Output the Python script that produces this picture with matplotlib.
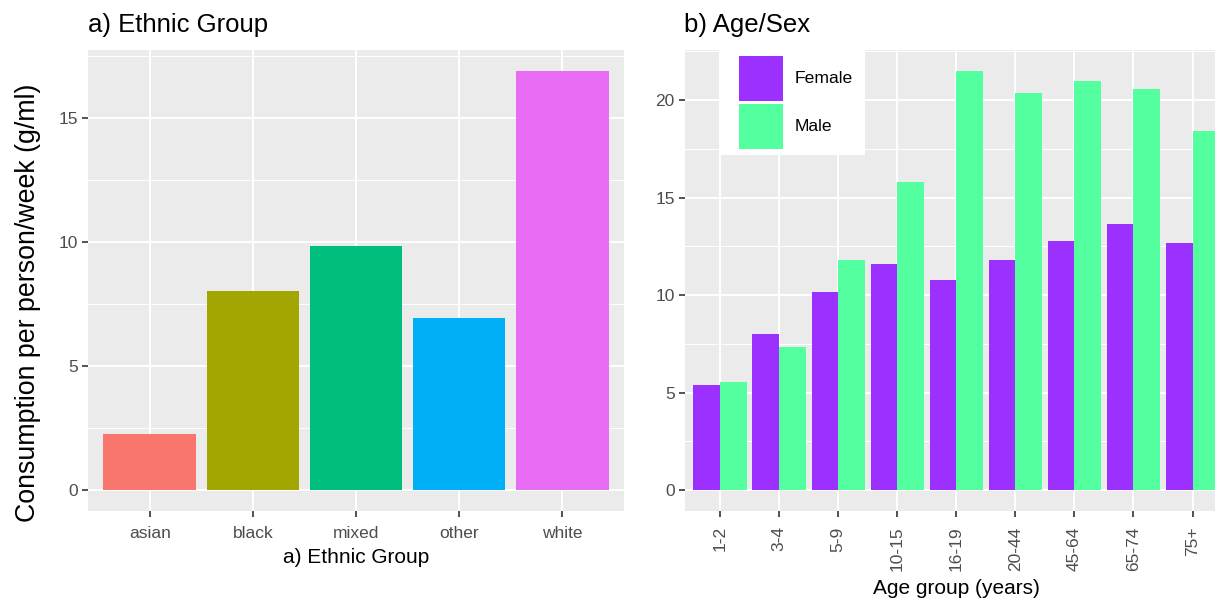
import matplotlib
matplotlib.use("Agg")
import matplotlib.pyplot as plt
import numpy as np
from matplotlib.patches import Patch, Rectangle
from matplotlib.ticker import MultipleLocator

plt.rcParams['font.family'] = ['Liberation Sans', 'DejaVu Sans']

# Data
ethnic_groups = ["asian", "black", "mixed", "other", "white"]
ethnic_values = [2.26, 8.02, 9.84, 6.94, 16.9]
ethnic_colors = ["#F8766D", "#A3A500", "#00BF7D", "#00B0F6", "#E76BF3"]

age_groups = ["1-2", "3-4", "5-9", "10-15", "16-19", "20-44", "45-64", "65-74", "75+"]
female_values = [5.38, 8.0, 10.15, 11.59, 10.77, 11.8, 12.8, 13.64, 12.67]
male_values = [5.54, 7.33, 11.8, 15.8, 21.5, 20.36, 20.97, 20.56, 18.4]
sex_labels = ["Female", "Male"]
sex_colors = ["#9B30FF", "#54FF9F"]

fig = plt.figure(figsize=(12.15, 6.0), dpi=100)
W, H = 1215, 600

def px_axes(x0, y0, x1, y1):
    return fig.add_axes([x0 / W, 1 - y1 / H, (x1 - x0) / W, (y1 - y0) / H])

def style(ax, ymax_data, minor_step):
    ax.set_facecolor("#EBEBEB")
    for s in ax.spines.values():
        s.set_visible(False)
    ax.yaxis.set_major_locator(MultipleLocator(5))
    ax.yaxis.set_minor_locator(MultipleLocator(minor_step))
    ax.grid(which="major", color="white", linewidth=1.4)
    ax.grid(which="minor", axis="y", color="white", linewidth=0.7)
    ax.set_axisbelow(True)
    ax.tick_params(axis="both", which="major", colors="#333333", length=4, width=1.2,
                   labelcolor="#4D4D4D", labelsize=12.5, pad=3)
    ax.tick_params(axis="x", which="major", pad=7)
    ax.tick_params(axis="both", which="minor", length=0)
    ax.set_ylim(-0.05 * ymax_data, ymax_data * 1.05)

# Left panel
ax1 = px_axes(88, 50, 624, 511)
x1 = np.arange(len(ethnic_groups))
ax1.bar(x1, ethnic_values, width=0.9, color=ethnic_colors, zorder=3)
ax1.set_xticks(x1)
ax1.set_xticklabels(ethnic_groups)
ax1.set_xlim(-0.6, len(ethnic_groups) - 0.4)
style(ax1, max(ethnic_values), 2.5)
ax1.set_xlabel("a) Ethnic Group", fontsize=15, labelpad=5)
ax1.set_ylabel("Consumption per person/week (g/ml)", fontsize=19.3)
ax1.yaxis.set_label_coords(-0.088, 0.452)
ax1.set_title("a) Ethnic Group", loc="left", fontsize=18.5, pad=13)

# Right panel
PX0, PX1, PY0, PY1 = 684.5, 1228, 50, 511
ax2 = px_axes(PX0, PY0, PX1, PY1)
x2 = np.arange(len(age_groups))
bw = 0.45
ax2.bar(x2 - bw / 2, female_values, width=bw, color=sex_colors[0], zorder=3)
ax2.bar(x2 + bw / 2, male_values, width=bw, color=sex_colors[1], zorder=3)
ax2.set_xticks(x2)
ax2.set_xticklabels(age_groups, rotation=90)
ax2.set_xlim(-0.6, len(age_groups) - 0.4)
style(ax2, max(male_values), 2.5)
ax2.set_xlabel("Age group (years)", fontsize=15, labelpad=6)
ax2.set_title("b) Age/Sex", loc="left", fontsize=18.5, pad=13)

def ax2_frac(px, py):
    return ((px - PX0) / (PX1 - PX0), 1 - (py - PY0) / (PY1 - PY0))

# legend background box
bx0, by0 = ax2_frac(720, 50)
bx1, by1 = ax2_frac(865, 155)
ax2.add_patch(Rectangle((bx0, by1), bx1 - bx0, by0 - by1, transform=ax2.transAxes,
                        facecolor="white", edgecolor="none", zorder=4, clip_on=False))

handles = [Patch(facecolor=c, edgecolor="none") for c in sex_colors]
fs = 12.6
fs_px = fs * 100 / 72
key_h = 45 / fs_px
hh = (key_h - 0.245) / 0.65
leg = ax2.legend(handles, sex_labels, loc="upper left", bbox_to_anchor=ax2_frac(739, 56),
                 frameon=False, fontsize=fs, handlelength=44 / fs_px, handleheight=hh,
                 handletextpad=12 / fs_px, labelspacing=3 / fs_px, borderpad=0, borderaxespad=0)
leg.set_zorder(5)

fig.savefig("out.png", dpi=100)
